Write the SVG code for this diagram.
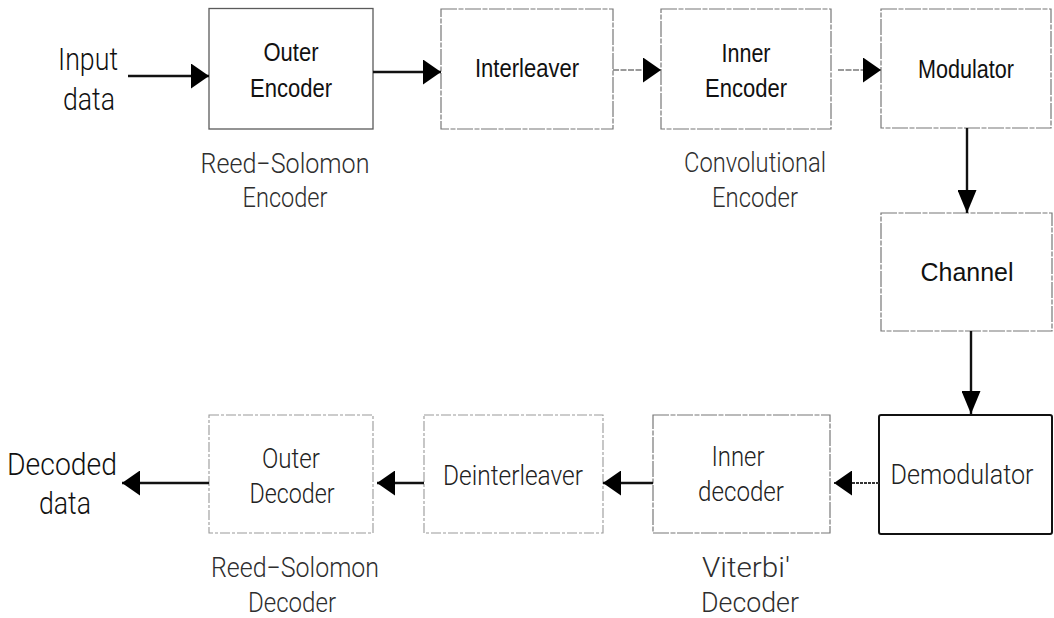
<svg xmlns="http://www.w3.org/2000/svg" width="1054" height="618" viewBox="0 0 1054 618">
  <style>
    .box { fill: #ffffff; stroke: #5a5a5a; stroke-width: 1.3; }
    .box-dash { fill: #ffffff; stroke: #777777; stroke-width: 1.2; stroke-dasharray: 16 1.5 5 1.5; }
    .box-faint { fill: #ffffff; stroke: #999999; stroke-width: 1.1; stroke-dasharray: 10 2 3 2; }
    .box-strong { fill: #ffffff; stroke: #111111; stroke-width: 2; }
    .lbl { font-family: "Liberation Sans", Arial, sans-serif; font-size: 25px; fill: #111111; text-anchor: middle; }
    .thin { font-family: Roboto, "Liberation Sans", sans-serif; font-weight: 300; font-size: 27px; fill: #222222; text-anchor: middle; }
    .io { font-family: Roboto, "Liberation Sans", sans-serif; font-weight: 300; font-size: 32px; fill: #111111; text-anchor: middle; }
    .sub { font-family: Roboto, "Liberation Sans", sans-serif; font-weight: 300; font-size: 27px; fill: #2e2e2e; text-anchor: middle; }
    .wire { fill: none; stroke: #111111; stroke-width: 2.4; }
    .wire-light { fill: none; stroke: #7a7a7a; stroke-width: 1.5; stroke-dasharray: 6 1.5; }
    .wire-dot { fill: none; stroke: #333333; stroke-width: 2; stroke-dasharray: 3 1; }
  </style>
  <defs>
    <marker id="ah" markerUnits="userSpaceOnUse" viewBox="0 0 18 25" markerWidth="18" markerHeight="25" refX="18" refY="12.5" orient="auto">
      <path d="M0,0 L18,12.5 L0,25 z" fill="#000000"/>
    </marker>
    <marker id="av" markerUnits="userSpaceOnUse" viewBox="0 0 23 19" markerWidth="23" markerHeight="19" refX="23" refY="9.5" orient="auto">
      <path d="M0,0 L23,9.5 L0,19 z" fill="#000000"/>
    </marker>
  </defs>

  <!-- external data labels -->
  <g id="input-data">
    <text class="io" x="88" y="70" textLength="60" lengthAdjust="spacingAndGlyphs">Input</text>
    <text class="io" x="89" y="110" textLength="52" lengthAdjust="spacingAndGlyphs">data</text>
  </g>
  <g id="decoded-data">
    <text class="io" x="62" y="475" textLength="110" lengthAdjust="spacingAndGlyphs">Decoded</text>
    <text class="io" x="65" y="514" textLength="52" lengthAdjust="spacingAndGlyphs">data</text>
  </g>

  <!-- transmitter chain -->
  <g id="outer-encoder">
    <rect class="box" x="209" y="8.5" width="164" height="120.5"/>
    <text class="lbl" x="291" y="61" textLength="55" lengthAdjust="spacingAndGlyphs">Outer</text>
    <text class="lbl" x="291" y="97" textLength="82" lengthAdjust="spacingAndGlyphs">Encoder</text>
    <text class="sub" x="285" y="173" textLength="169" lengthAdjust="spacingAndGlyphs">Reed−Solomon</text>
    <text class="sub" x="285" y="207" textLength="85" lengthAdjust="spacingAndGlyphs">Encoder</text>
  </g>
  <g id="interleaver">
    <rect class="box-dash" x="441" y="9" width="172" height="120"/>
    <text class="lbl" x="527" y="77" textLength="104" lengthAdjust="spacingAndGlyphs">Interleaver</text>
  </g>
  <g id="inner-encoder">
    <rect class="box-dash" x="661" y="9" width="170" height="120"/>
    <text class="lbl" x="746" y="62" textLength="49" lengthAdjust="spacingAndGlyphs">Inner</text>
    <text class="lbl" x="746" y="97" textLength="82" lengthAdjust="spacingAndGlyphs">Encoder</text>
    <text class="sub" x="755" y="172" textLength="142" lengthAdjust="spacingAndGlyphs">Convolutional</text>
    <text class="sub" x="755" y="207" textLength="86" lengthAdjust="spacingAndGlyphs">Encoder</text>
  </g>
  <g id="modulator">
    <rect class="box-dash" x="881" y="9" width="170" height="119"/>
    <text class="lbl" x="966" y="78" textLength="96" lengthAdjust="spacingAndGlyphs">Modulator</text>
  </g>
  <g id="channel">
    <rect class="box-dash" x="881" y="213" width="171" height="118"/>
    <text class="lbl" x="967" y="281" textLength="93" lengthAdjust="spacingAndGlyphs">Channel</text>
  </g>

  <!-- receiver chain -->
  <g id="demodulator">
    <rect class="box-strong" x="879" y="415" width="173" height="119" rx="2"/>
    <text class="thin" x="962" y="484" textLength="143" lengthAdjust="spacingAndGlyphs">Demodulator</text>
  </g>
  <g id="inner-decoder">
    <rect class="box-dash" x="653" y="415" width="177" height="118"/>
    <text class="thin" x="738" y="466" textLength="53" lengthAdjust="spacingAndGlyphs">Inner</text>
    <text class="thin" x="741" y="501" textLength="86" lengthAdjust="spacingAndGlyphs">decoder</text>
    <text class="sub" x="746" y="577" textLength="88" lengthAdjust="spacingAndGlyphs">Viterbi'</text>
    <text class="sub" x="750" y="612" textLength="98" lengthAdjust="spacingAndGlyphs">Decoder</text>
  </g>
  <g id="deinterleaver">
    <rect class="box-faint" x="424" y="415" width="179" height="118"/>
    <text class="thin" x="513" y="485" textLength="140" lengthAdjust="spacingAndGlyphs">Deinterleaver</text>
  </g>
  <g id="outer-decoder">
    <rect class="box-faint" x="209" y="415" width="164" height="118"/>
    <text class="thin" x="291" y="468" textLength="58" lengthAdjust="spacingAndGlyphs">Outer</text>
    <text class="thin" x="292" y="503" textLength="85" lengthAdjust="spacingAndGlyphs">Decoder</text>
    <text class="sub" x="295" y="577" textLength="168" lengthAdjust="spacingAndGlyphs">Reed−Solomon</text>
    <text class="sub" x="292" y="612" textLength="88" lengthAdjust="spacingAndGlyphs">Decoder</text>
  </g>

  <!-- connectors -->
  <g id="connectors">
    <line class="wire" x1="128" y1="76" x2="209" y2="76" marker-end="url(#ah)"/>
    <line class="wire" x1="373" y1="72" x2="441" y2="72" marker-end="url(#ah)"/>
    <line class="wire-light" x1="613" y1="70" x2="661" y2="70" marker-end="url(#ah)"/>
    <line class="wire-light" x1="838" y1="70" x2="881" y2="70" marker-end="url(#ah)"/>
    <line class="wire" x1="967" y1="128" x2="967" y2="213" marker-end="url(#av)"/>
    <line class="wire" x1="971" y1="331" x2="971" y2="414" stroke-width="1.8" marker-end="url(#av)"/>
    <line class="wire-dot" x1="879" y1="483" x2="834" y2="483" marker-end="url(#ah)"/>
    <line class="wire" x1="653" y1="483" x2="603" y2="483" marker-end="url(#ah)"/>
    <line class="wire" x1="424" y1="483" x2="377" y2="483" marker-end="url(#ah)"/>
    <line class="wire" x1="209" y1="483" x2="122" y2="483" marker-end="url(#ah)"/>
  </g>
</svg>
